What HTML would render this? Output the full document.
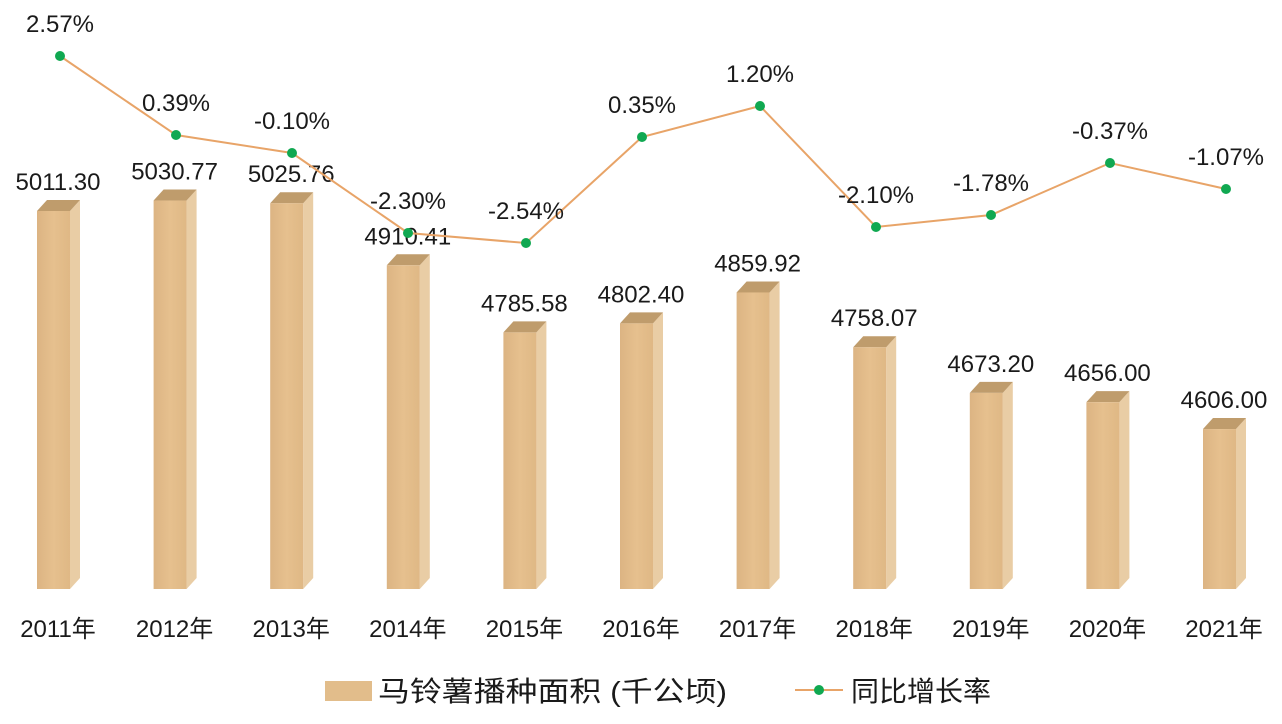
<!DOCTYPE html>
<html><head><meta charset="utf-8">
<style>
html,body{margin:0;padding:0;background:#fff;width:1282px;height:724px;overflow:hidden}
svg text{font-family:"Liberation Sans","Noto Sans CJK SC",sans-serif;fill:#1a1a1a}
</style></head>
<body>
<svg id="c" width="1282" height="724" viewBox="0 0 1282 724" xmlns="http://www.w3.org/2000/svg"></svg>
<script>
const vals=[5011.30,5030.77,5025.76,4910.41,4785.58,4802.40,4859.92,4758.07,4673.20,4656.00,4606.00];
const pct=["2.57%","0.39%","-0.10%","-2.30%","-2.54%","0.35%","1.20%","-2.10%","-1.78%","-0.37%","-1.07%"];
const pts=[[60,56],[176,135],[292,153],[408,233],[526,243],[642,137],[760,106],[876,227],[991,215],[1110,163],[1226,189]];
let s='<defs><linearGradient id="f" x1="0" x2="1"><stop offset="0" stop-color="#dcb483"/><stop offset="0.5" stop-color="#e6c08e"/><stop offset="1" stop-color="#dfb885"/></linearGradient></defs>';
for(let i=0;i<11;i++){
 const x=37+116.6*i, w=33, d=10, h=11, bot=589;
 const t=211+(5011.3-vals[i])*0.538;
 s+=`<polygon points="${x+w},${t} ${x+w+d},${t-h} ${x+w+d},${bot-h} ${x+w},${bot}" fill="#e9cda5"/>`;
 s+=`<polygon points="${x},${t} ${x+d},${t-h} ${x+w+d},${t-h} ${x+w},${t}" fill="#bf9c6c"/>`;
 s+=`<rect x="${x}" y="${t}" width="${w}" height="${bot-t}" fill="url(#f)"/>`;
 s+=`<text x="${x+21}" y="${t-21}" font-size="24" text-anchor="middle">${vals[i].toFixed(2)}</text>`;
 s+=`<text x="${x+21}" y="637" font-size="24" text-anchor="middle">${2011+i}年</text>`;
}
s+=`<polyline points="${pts.map(p=>p.join(',')).join(' ')}" fill="none" stroke="#e8a468" stroke-width="2"/>`;
for(let i=0;i<11;i++){
 const [x,y]=pts[i];
 s+=`<circle cx="${x}" cy="${y}" r="5" fill="#10a851"/>`;
 s+=`<text x="${x}" y="${y-24}" font-size="24" text-anchor="middle">${pct[i]}</text>`;
}
s+=`<rect x="325" y="681" width="47" height="20" fill="#e2bd8b"/>`;
s+=`<text x="378" y="701" font-size="28" textLength="349" lengthAdjust="spacingAndGlyphs">马铃薯播种面积 (千公顷)</text>`;
s+=`<line x1="795" y1="690" x2="843" y2="690" stroke="#e8a468" stroke-width="2"/><circle cx="819" cy="690" r="5" fill="#10a851"/>`;
s+=`<text x="851" y="701" font-size="28">同比增长率</text>`;
document.getElementById('c').innerHTML=s;
</script>
</body></html>
